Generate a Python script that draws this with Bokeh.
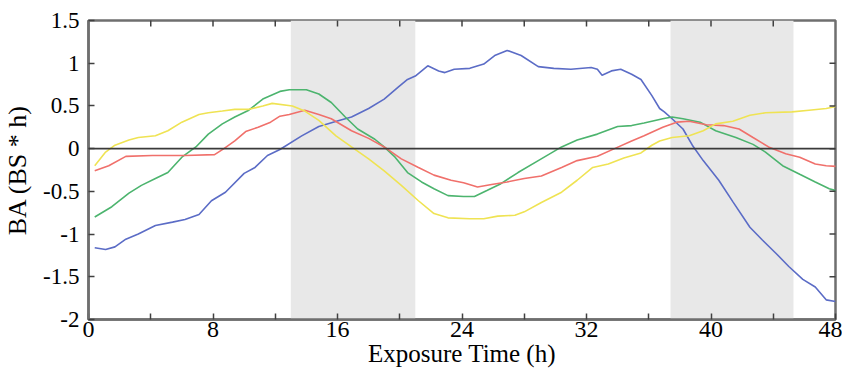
import math
from bokeh.plotting import figure
from bokeh.models import (LinearAxis, FixedTicker, Span, BoxAnnotation, Range1d)
from bokeh.embed import file_html
from bokeh.resources import INLINE

# ---- data ----
blue_h = [0.4, 1.1, 1.7, 2.4, 3.2, 4.3, 5.4, 6.2, 7.1, 7.9, 8.8, 10.0, 10.7, 11.5, 12.3,
          13.7, 14.8, 16.1, 16.9, 18.0, 19.0, 19.9, 20.5, 21.0, 21.8, 22.5, 22.9, 23.5, 24.5,
          25.4, 26.1, 26.9, 27.8, 28.9, 29.9, 31.0, 32.3, 32.7, 33.0, 33.6, 34.2, 34.9, 35.5,
          36.2, 36.7, 37.0, 37.5, 38.2, 38.8, 39.5, 40.5, 41.4, 42.5, 43.3, 44.2, 45.0, 45.9,
          46.7, 47.4, 48.0]
blue_v = [-1.16, -1.18, -1.15, -1.06, -1.00, -0.90, -0.86, -0.83, -0.77, -0.61, -0.51, -0.29, -0.22, -0.08, -0.01,
          0.15, 0.26, 0.33, 0.37, 0.47, 0.58, 0.72, 0.81, 0.85, 0.97, 0.91, 0.89, 0.93, 0.94,
          0.99, 1.09, 1.15, 1.09, 0.96, 0.94, 0.93, 0.95, 0.93, 0.86, 0.91, 0.93, 0.87, 0.81,
          0.62, 0.47, 0.43, 0.35, 0.23, 0.04, -0.14, -0.37, -0.62, -0.92, -1.07, -1.23, -1.38, -1.53,
          -1.62, -1.77, -1.79]

green_h = [0.4, 1.5, 2.6, 3.4, 4.3, 5.1, 6.0, 6.9, 7.7, 8.6, 9.4, 10.3, 11.2, 12.3,
           12.9, 14.0, 14.8, 15.6, 16.5, 17.3, 18.4, 19.0, 19.7, 20.5, 21.4, 22.2, 23.1, 24.1,
           24.8, 25.6, 26.5, 27.6, 28.9, 30.4, 31.4, 32.7, 34.0, 34.9, 35.7, 36.9, 37.5, 38.2,
           39.3, 40.3, 41.6, 42.7, 43.5, 44.6, 45.7, 46.7, 47.6, 48.2]
green_v = [-0.80, -0.68, -0.52, -0.43, -0.35, -0.28, -0.10, 0.02, 0.17, 0.29, 0.37, 0.45, 0.58, 0.67,
           0.69, 0.69, 0.64, 0.54, 0.37, 0.23, 0.11, 0.02, -0.10, -0.28, -0.39, -0.47, -0.55, -0.56,
           -0.56, -0.49, -0.41, -0.28, -0.14, 0.02, 0.10, 0.17, 0.26, 0.27, 0.30, 0.35, 0.37, 0.35,
           0.31, 0.21, 0.13, 0.05, -0.04, -0.20, -0.30, -0.39, -0.47, -0.50]

yellow_h = [0.4, 1.1, 1.7, 2.6, 3.2, 4.3, 5.1, 6.0, 7.1, 7.7, 8.6, 9.4, 10.3, 11.2, 11.8,
            13.1, 13.9, 14.8, 15.9, 16.9, 18.0, 19.0, 20.1, 21.2, 22.2, 23.1, 24.5,
            25.4, 26.3, 27.4, 28.0, 29.1, 30.4, 31.4, 32.4, 33.4, 34.4, 35.5, 36.2, 36.7,
            37.5, 38.6, 39.5, 40.3, 41.4, 42.5, 43.5, 45.2, 46.3, 47.4, 48.2]
yellow_v = [-0.20, -0.04, 0.04, 0.10, 0.13, 0.15, 0.21, 0.31, 0.40, 0.42, 0.44, 0.46, 0.46, 0.50, 0.53,
            0.50, 0.44, 0.33, 0.15, 0.02, -0.12, -0.26, -0.43, -0.61, -0.76, -0.81, -0.82,
            -0.82, -0.79, -0.78, -0.74, -0.63, -0.51, -0.37, -0.22, -0.18, -0.11, -0.05, 0.04, 0.09,
            0.13, 0.15, 0.21, 0.29, 0.32, 0.39, 0.42, 0.43, 0.45, 0.47, 0.50]

red_h = [0.4, 1.3, 2.4, 4.1, 6.2, 8.1, 8.7, 9.4, 10.1, 10.9, 11.7, 12.3,
         12.9, 13.9, 14.8, 15.6, 16.9, 18.0, 19.0, 20.1, 21.2, 22.2, 23.3, 24.1,
         25.0, 25.9, 26.9, 28.0, 29.1, 30.4, 31.4, 32.7, 33.8, 34.9, 35.7, 36.9,
         37.8, 38.6, 39.7, 40.8, 41.8, 42.7, 43.7, 44.8, 45.7, 46.7, 47.4, 48.2]
red_v = [-0.26, -0.20, -0.09, -0.08, -0.08, -0.07, 0.00, 0.09, 0.20, 0.25, 0.31, 0.38,
         0.40, 0.45, 0.40, 0.35, 0.21, 0.12, 0.02, -0.12, -0.22, -0.31, -0.37, -0.40,
         -0.45, -0.42, -0.39, -0.35, -0.32, -0.22, -0.14, -0.09, 0.00, 0.09, 0.15, 0.25,
         0.31, 0.32, 0.28, 0.27, 0.23, 0.13, 0.02, -0.06, -0.10, -0.18, -0.20, -0.21]

dark_periods = [(13.0, 21.0), (37.4, 45.3)]
x_ticks = [0, 8, 16, 24, 32, 40, 48]
x_minor = [4, 12, 20, 28, 36, 44]
y_ticks = [-2, -1.5, -1, -0.5, 0, 0.5, 1, 1.5]
y_labels = ["-2", "-1.5", "-1", "-0.5", "0", "0.5", "1", "1.5"]
x_min, x_max, y_min, y_max = 0, 48, -2, 1.5

FONT = "Liberation Serif"
AXIS_COLOR = "#6f6f6f"
TICK_COLOR = "#404040"

p = figure(width=842, height=373, output_backend="svg", toolbar_location=None,
           x_range=Range1d(x_min, x_max), y_range=Range1d(y_min, y_max),
           x_axis_location=None, y_axis_location=None,
           min_border_left=88, min_border_right=7, min_border_top=20, min_border_bottom=54)
p.grid.visible = False
p.outline_line_color = AXIS_COLOR
p.outline_line_width = 2.5
p.background_fill_color = "white"
p.border_fill_color = "white"

for a, b in dark_periods:
    p.add_layout(BoxAnnotation(left=a, right=b, fill_color="#e8e8e8", fill_alpha=1.0,
                               line_color=None, level="underlay"))

p.add_layout(Span(location=0, dimension="width", line_color="#3a3a3a", line_width=1.6))

p.line(blue_h, blue_v, line_color="#5b6cc6", line_width=1.6)
p.line(green_h, green_v, line_color="#4cb46e", line_width=1.6)
p.line(red_h, red_v, line_color="#f0706b", line_width=1.6)
p.line(yellow_h, yellow_v, line_color="#efe353", line_width=1.6)

# inward ticks on the top and right frame edges (half of each dash is clipped by the frame)
top_x = [t for t in sorted(x_ticks + x_minor) if x_min < t < x_max]
p.scatter(top_x, [y_max] * len(top_x), marker="dash", angle=math.pi / 2, size=12,
          line_color=TICK_COLOR, line_width=1.5)
right_y = [t for t in y_ticks if y_min < t < y_max]
p.scatter([x_max] * len(right_y), right_y, marker="dash", size=12,
          line_color=TICK_COLOR, line_width=1.5)

def style(ax):
    ax.axis_line_color = AXIS_COLOR
    ax.axis_line_width = 2.5
    ax.major_tick_line_color = TICK_COLOR
    ax.minor_tick_line_color = TICK_COLOR
    ax.major_tick_line_width = 1.5
    ax.minor_tick_line_width = 1.5
    ax.major_tick_in = 6
    ax.major_tick_out = 0
    ax.minor_tick_in = 6
    ax.minor_tick_out = 0
    ax.major_label_text_font = FONT
    ax.major_label_text_color = "black"
    ax.axis_label_text_font = FONT
    ax.axis_label_text_font_style = "normal"
    ax.axis_label_text_color = "black"

xb = LinearAxis(ticker=FixedTicker(ticks=x_ticks, minor_ticks=x_minor),
                axis_label="Exposure Time (h)")
style(xb)
xb.major_label_text_font_size = "24px"
xb.major_label_standoff = 2
xb.axis_label_text_font_size = "25px"
xb.axis_label_standoff = 0
p.add_layout(xb, "below")

yl = LinearAxis(ticker=FixedTicker(ticks=y_ticks), axis_label="BA (BS * h)")
style(yl)
yl.major_label_overrides = {t: s for t, s in zip(y_ticks, y_labels)}
yl.major_label_text_font_size = "23px"
yl.major_label_standoff = 9
yl.axis_label_text_font_size = "26px"
yl.axis_label_standoff = 8
p.add_layout(yl, "left")

open("out.html", "w").write(file_html(p, INLINE))
